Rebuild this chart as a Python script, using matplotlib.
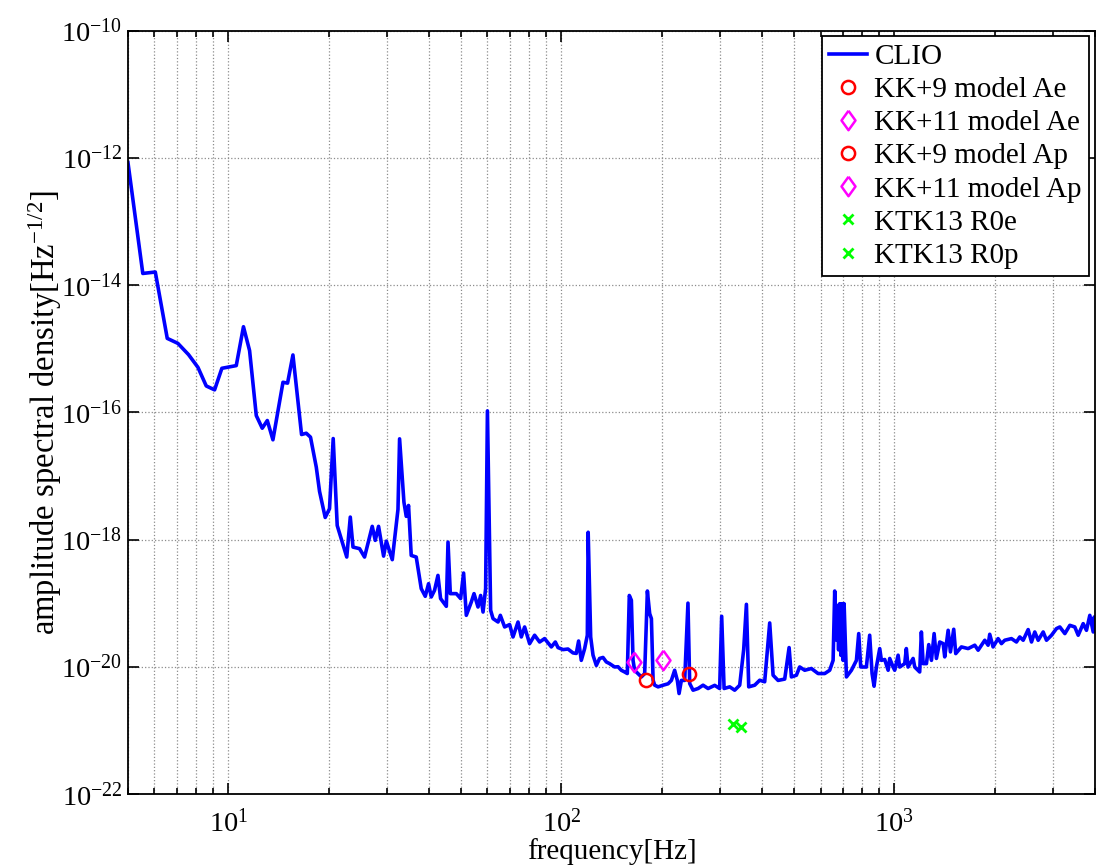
import numpy as np
import matplotlib
matplotlib.use("Agg")
from matplotlib import pyplot as plt
from matplotlib.ticker import LogLocator, NullFormatter

plt.rcParams["font.family"] = ["Liberation Serif", "DejaVu Serif"]
plt.rcParams["mathtext.fontset"] = "custom"
plt.rcParams["mathtext.rm"] = "Liberation Serif"
plt.rcParams["mathtext.it"] = "Liberation Serif:italic"

# CLIO amplitude spectral density
freq = [
    5.0, 5.54, 6.04, 6.56, 7.06, 7.60, 8.11, 8.59, 9.10, 9.57,
    10.57, 11.11, 11.59, 12.14, 12.65, 13.10, 13.62, 14.60, 15.07, 15.64,
    16.60, 17.15, 17.66, 18.38, 18.80, 19.55, 20.14, 20.66, 21.24, 21.84,
    22.69, 23.25, 23.69, 24.79, 25.66, 27.06, 27.63, 28.27, 29.27, 29.83,
    31.08, 32.33, 32.69, 33.69, 34.23, 34.78, 35.43, 36.68, 37.97, 39.04,
    39.94, 40.69, 41.63, 42.62, 43.40, 45.16, 45.69, 46.42, 48.39, 49.85,
    50.89, 51.85, 53.67, 54.69, 56.22, 57.25, 58.21, 59.26, 60.0, 61.35,
    62.37, 64.57, 65.60, 67.58, 69.95, 71.61, 74.13, 75.84, 77.59, 80.32,
    83.14, 86.06, 89.08, 93.33, 95.94, 97.75, 101.2, 104.7, 108.4, 110.9,
    112.7, 114.8, 117.5, 119.7, 120.4, 122.5, 124.5, 127.4, 130.3, 133.4,
    136.5, 139.6, 144.5, 148.0, 151.4, 154.9, 157.8, 160.0, 162.3, 164.2,
    166.0, 170.0, 173.9, 177.9, 181.3, 184.2, 186.4, 188.6, 190.7, 195.2,
    202.1, 209.2, 214.0, 218.9, 223.0, 225.7, 229.3, 234.6, 240.0, 242.9,
    248.6, 257.4, 266.4, 275.8, 288.7, 298.8, 303.0, 308.1, 320.3, 331.5,
    343.2, 352.8, 359.5, 365.3, 380.7, 394.1, 407.9, 422.3, 432.3, 447.5,
    468.5, 482.9, 490.7, 507.9, 519.6, 537.9, 563.4, 590.1, 617.7, 639.4,
    654.6, 661.9, 669.6, 674.3, 679.9, 685.2, 690.9, 696.6, 701.5, 706.3,
    717.8, 743.0, 769.1, 781.4, 792.3, 823.9, 842.9, 857.0, 868.9, 883.0,
    903.6, 914.1, 935.3, 957.6, 968.1, 991.1, 1002, 1026, 1037, 1074,
    1086, 1099, 1138, 1151, 1191, 1205, 1220, 1248, 1268, 1292,
    1316, 1337, 1368, 1401, 1416, 1450, 1473, 1507, 1528, 1589,
    1665, 1743, 1784, 1868, 1911, 1933, 1978, 2048, 2096, 2144,
    2246, 2325, 2379, 2436, 2521, 2580, 2639, 2702, 2797, 2862,
    2963, 3066, 3138, 3249, 3363, 3480, 3563, 3688, 3773, 3861,
    3953, 3980, 4000,
]
asd = [
    8.4e-13, 1.52e-14, 1.60e-14, 1.45e-15, 1.21e-15, 8.05e-16, 5.08e-16, 2.59e-16, 2.25e-16, 4.91e-16,
    5.41e-16, 2.21e-15, 9.31e-16, 8.87e-17, 5.61e-17, 7.41e-17, 3.69e-17, 2.96e-16, 2.87e-16, 7.96e-16,
    4.47e-17, 4.68e-17, 4.06e-17, 1.37e-17, 5.69e-18, 2.22e-18, 3.05e-18, 3.86e-17, 1.66e-18, 1.02e-18,
    5.30e-19, 2.25e-18, 7.60e-19, 7.18e-19, 5.30e-19, 1.61e-18, 9.68e-19, 1.61e-18, 5.48e-19, 9.44e-19,
    4.82e-19, 2.97e-18, 3.82e-17, 3.86e-18, 2.31e-18, 3.43e-18, 5.62e-19, 5.30e-19, 1.69e-19, 1.28e-19,
    2.02e-19, 1.25e-19, 1.59e-19, 2.73e-19, 1.18e-19, 8.91e-20, 9.10e-19, 1.41e-19, 1.41e-19, 1.18e-19,
    2.97e-19, 6.43e-20, 1.04e-19, 1.41e-19, 8.69e-20, 1.32e-19, 7.24e-20, 1.69e-19, 1.05e-16, 7.71e-20,
    5.71e-20, 5.05e-20, 6.43e-20, 4.22e-20, 4.6e-20, 2.94e-20, 5.05e-20, 2.94e-20, 4.22e-20, 2.31e-20,
    3.13e-20, 2.45e-20, 2.77e-20, 2.05e-20, 2.45e-20, 2.00e-20, 1.86e-20, 1.90e-20, 1.65e-20, 1.62e-20,
    2.54e-20, 1.26e-20, 1.93e-20, 3.13e-20, 1.3e-18, 2.94e-20, 1.52e-20, 1.05e-20, 1.35e-20, 1.40e-20,
    1.19e-20, 1.12e-20, 9.93e-21, 1.0e-20, 8.81e-21, 8.28e-21, 7.82e-21, 1.32e-19, 1.11e-19, 1.26e-20,
    8.8e-21, 7.8e-21, 6.92e-21, 7.8e-21, 1.55e-19, 6.84e-20, 5.71e-20, 6.14e-21, 5.13e-21, 4.83e-21,
    5.13e-21, 5.4e-21, 6.1e-21, 8.8e-21, 6.1e-21, 3.79e-21, 6.1e-21, 6.1e-21, 1.0e-19, 5.45e-21,
    4.28e-21, 4.55e-21, 5.13e-21, 4.55e-21, 5.1e-21, 4.55e-21, 6.21e-20, 4.55e-21, 4.83e-21, 4.28e-21,
    5.13e-21, 1.86e-20, 9.57e-20, 4.83e-21, 5.13e-21, 6.14e-21, 5.8e-21, 4.88e-20, 7.36e-21, 6.1e-21,
    6.4e-21, 2.0e-20, 6.92e-21, 7.36e-21, 9.93e-21, 8.81e-21, 9.38e-21, 7.82e-21, 7.82e-21, 8.81e-21,
    1.26e-20, 1.55e-19, 2.63e-20, 9.2e-20, 1.84e-20, 9.8e-20, 1.51e-20, 9.8e-20, 1.26e-20, 9.8e-20,
    6.92e-21, 8.81e-21, 1.26e-20, 3.32e-20, 9.93e-21, 9.9e-21, 3.13e-20, 7.82e-21, 4.94e-21, 9.93e-21,
    1.93e-20, 1.26e-20, 1.3e-20, 8.81e-21, 1.35e-20, 9.93e-21, 8.81e-21, 1.52e-20, 9.9e-21, 1.12e-20,
    1.93e-20, 9.9e-21, 1.35e-20, 9.9e-21, 8.28e-21, 3.52e-20, 1.12e-20, 1.12e-20, 2.23e-20, 1.26e-20,
    3.32e-20, 1.35e-20, 2.45e-20, 2.31e-20, 1.43e-20, 3.74e-20, 1.71e-20, 3.88e-20, 1.61e-20, 2.05e-20,
    1.93e-20, 2.18e-20, 1.82e-20, 2.61e-20, 2.18e-20, 3.24e-20, 2.05e-20, 2.77e-20, 2.31e-20, 2.61e-20,
    2.77e-20, 2.45e-20, 2.94e-20, 2.61e-20, 3.84e-20, 2.45e-20, 3.52e-20, 2.61e-20, 3.52e-20, 2.61e-20,
    3.13e-20, 3.98e-20, 4.22e-20, 3.32e-20, 4.48e-20, 4.22e-20, 3.13e-20, 4.76e-20, 3.74e-20, 6.43e-20,
    3.52e-20, 6.05e-20, 3.74e-20,
]

# model predictions (frequency [Hz], amplitude)
kk9_ae = (179.6, 6.1e-21)
kk11_ae = (165.6, 1.19e-20)
kk9_ap = (241.8, 7.7e-21)
kk11_ap = (201.9, 1.30e-20)
ktk13_r0e = (327.8, 1.24e-21)
ktk13_r0p = (347.0, 1.11e-21)

# matlab-like diamond (a bit wider than matplotlib's thin diamond)
diamond = [(0, 1), (0.72, 0), (0, -1), (-0.72, 0), (0, 1)]

fig = plt.figure(figsize=(11.07, 8.67), dpi=100)
ax = fig.add_axes([0.1156, 0.0842, 0.8735, 0.8806])

ax.loglog(freq, asd, color="#0000ff", lw=2.6, label="CLIO")
ax.loglog(*kk9_ae, "o", ms=9.5, mfc="none", mec="#ff0000", mew=1.8, ls="none", label="KK+9 model Ae")
ax.loglog(*kk11_ae, marker=diamond, ms=14, mfc="none", mec="#ff00ff", mew=1.8, ls="none", label="KK+11 model Ae")
ax.loglog(*kk9_ap, "o", ms=9.5, mfc="none", mec="#ff0000", mew=1.8, ls="none", label="KK+9 model Ap")
ax.loglog(*kk11_ap, marker=diamond, ms=14, mfc="none", mec="#ff00ff", mew=1.8, ls="none", label="KK+11 model Ap")
ax.loglog(*ktk13_r0e, "x", ms=7, mec="#00ff00", mew=2, ls="none", label="KTK13 R0e")
ax.loglog(*ktk13_r0p, "x", ms=7, mec="#00ff00", mew=2, ls="none", label="KTK13 R0p")

ax.set_xlim(5, 4000)
ax.set_ylim(1e-22, 1e-10)
ax.set_yticks([1e-22, 1e-20, 1e-18, 1e-16, 1e-14, 1e-12, 1e-10])
ax.yaxis.set_minor_locator(plt.NullLocator())
ax.xaxis.set_minor_locator(LogLocator(base=10, subs=np.arange(2, 10), numticks=20))
ax.xaxis.set_minor_formatter(NullFormatter())

ax.grid(True, which="major", ls=":", color="0.55", lw=0.9)
ax.grid(True, which="minor", axis="x", ls=":", color="0.55", lw=0.9)
ax.tick_params(which="both", direction="in", top=True, right=True, labelsize=20.5, width=1.2, color="black")
ax.tick_params(which="major", length=8)
ax.tick_params(axis="x", which="major", pad=11)
ax.tick_params(axis="y", which="major", pad=4)
ax.tick_params(which="minor", length=4)
for s in ax.spines.values():
    s.set_linewidth(1.3)

ax.set_xlabel("frequency[Hz]", fontsize=21, labelpad=0)
ax.set_ylabel("amplitude spectral density[Hz$^{-1/2}$]", fontsize=23.5, labelpad=-2)

leg = ax.legend(loc="upper right", fontsize=21, handlelength=1.3, handletextpad=0.25,
                labelspacing=0.23, borderpad=0.25, borderaxespad=0.2, fancybox=False,
                framealpha=1, edgecolor="black")
leg.get_frame().set_linewidth(1.3)

fig.savefig("out.png", dpi=100, facecolor="white")
